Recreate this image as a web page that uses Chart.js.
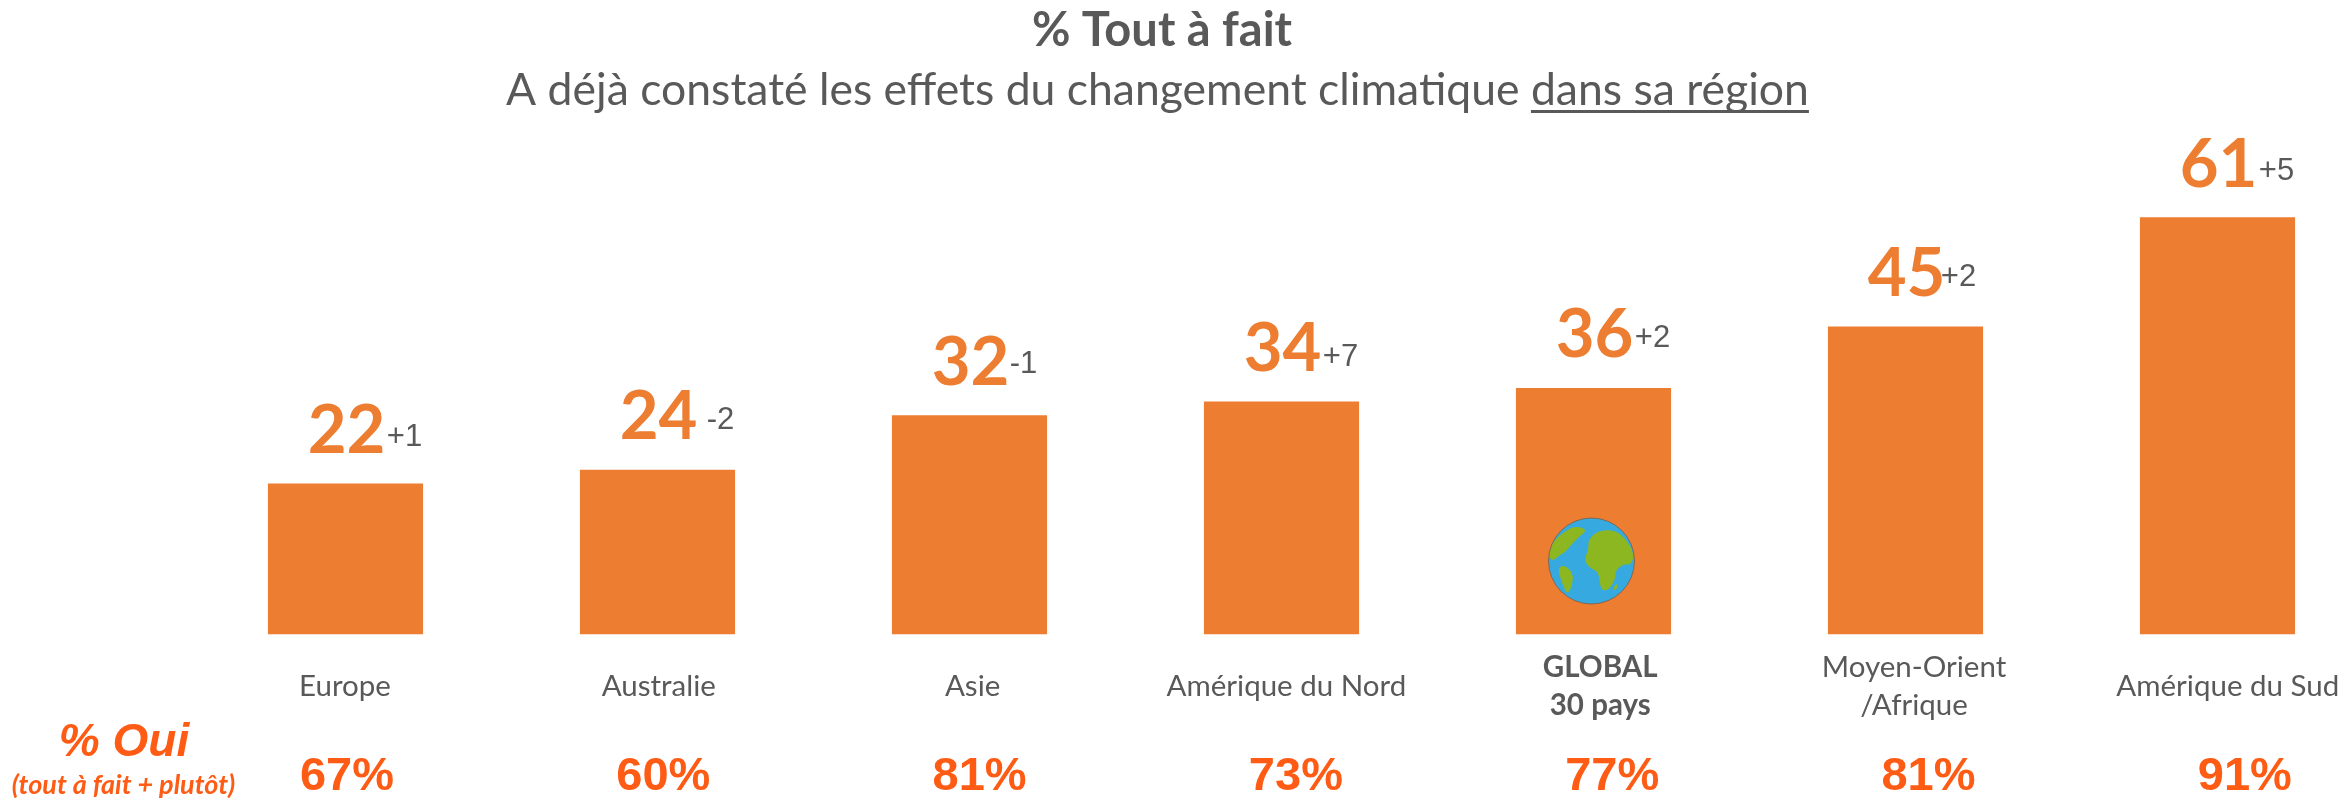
<!DOCTYPE html>
<html><head><meta charset="utf-8">
<style>html,body{margin:0;padding:0;background:#fff;overflow:hidden}canvas{display:block}</style>
<script src="https://cdn.jsdelivr.net/npm/chart.js@4"></script></head>
<body><canvas id="c" width="2346" height="798"></canvas>
<script>
const categories = ['Europe','Australie','Asie','Amérique du Nord',['GLOBAL','30 pays'],['Moyen-Orient','/Afrique'],'Amérique du Sud'];
const toutAFait = [22,24,32,34,36,45,61];
const deltas = ['+1','-2','-1','+7','+2','+2','+5'];
const pctOui = ['67%','60%','81%','73%','77%','81%','91%'];
const titleLine = '% Tout à fait';
const subtitleMain = 'A déjà constaté les effets du changement climatique ';
const subtitleUnderlined = 'dans sa région';
const ouiLabel = '% Oui';
const ouiNote = '(tout à fait + plutôt)';
const globalIndex = 4;

const ORANGE='#ED7D31', RED='#FE5B14', GREY='#595959';
const deltaDX=[59,63,54,59,59,53,59], deltaDY=[-46,-50,-51,-44,-50,-49,-46];

const continents=[
 [[415,205],[400,240],[420,265],[445,275],[450,330],[475,330],[495,295],[495,270],[520,250],[540,255],[552,225],[530,180],[495,150],[450,150],[425,165],[412,185]],
 [[298,200],[320,170],[370,135],[412,148],[385,170],[360,195],[345,215],[325,225],[312,240],[295,235]],
 [[320,260],[345,255],[372,285],[355,345],[338,320]],
 [[488,322],[500,308],[502,322],[492,332]]
];
function drawGlobe(ctx,cx,cy,r){
  ctx.save();
  ctx.beginPath();ctx.arc(cx,cy,r,0,Math.PI*2);ctx.fillStyle='#36A9E0';ctx.fill();
  ctx.clip();
  ctx.fillStyle='#8DB720';
  const k=r/129;
  for(const p of continents){
    ctx.beginPath();
    const P=p.map(a=>[cx+(a[0]-423)*k,cy+(a[1]-242)*k]);
    const n=P.length;
    ctx.moveTo((P[n-1][0]+P[0][0])/2,(P[n-1][1]+P[0][1])/2);
    for(let i=0;i<n;i++){const q=P[(i+1)%n];ctx.quadraticCurveTo(P[i][0],P[i][1],(P[i][0]+q[0])/2,(P[i][1]+q[1])/2);}
    ctx.closePath();ctx.fill();
  }
  ctx.restore();
  ctx.beginPath();ctx.arc(cx,cy,r,0,Math.PI*2);ctx.strokeStyle='rgba(120,95,70,.8)';ctx.lineWidth=1;ctx.stroke();
}
const annotate={id:'annotate',afterDatasetsDraw(chart){
  const ctx=chart.ctx,x=chart.scales.x,y=chart.scales.y;
  ctx.save();
  ctx.textBaseline='alphabetic';
  ctx.textAlign='center';ctx.fillStyle=GREY;
  ctx.font='bold 47px Lato';ctx.fillText(titleLine,1162,46);
  ctx.font='44.5px Lato';
  ctx.textAlign='left';
  const mainW=ctx.measureText(subtitleMain).width, undW=ctx.measureText(subtitleUnderlined).width;
  const sx=1157.5-(mainW+undW)/2;
  ctx.fillText(subtitleMain,sx,105);
  ctx.fillText(subtitleUnderlined,sx+mainW,105);
  ctx.fillRect(sx+mainW,110,undW,3);
  toutAFait.forEach((v,i)=>{
    const px=x.getPixelForValue(i),top=y.getPixelForValue(v);
    ctx.textAlign='center';
    ctx.fillStyle=ORANGE;ctx.font='bold 67px Lato';
    ctx.fillText(String(v),px+1,top-31);
    ctx.fillStyle=GREY;ctx.font='31px "Liberation Sans"';
    ctx.textBaseline='middle';
    ctx.fillText(deltas[i],px+deltaDX[i],top+deltaDY[i]);
    ctx.textBaseline='alphabetic';
    ctx.fillStyle=RED;ctx.font='bold 47px "Liberation Sans"';
    ctx.fillText(pctOui[i],px+1.5+4.3*i,790);
  });
  ctx.fillStyle=RED;
  ctx.font='italic bold 46px "Liberation Sans"';ctx.fillText(ouiLabel,124,756);
  ctx.font='italic bold 27px Lato';ctx.fillText(ouiNote,123.5,794);
  ctx.restore();
  drawGlobe(ctx,x.getPixelForValue(globalIndex)-2,561,43);
}};
new Chart(document.getElementById('c'),{
  type:'bar',
  data:{labels:categories,datasets:[{data:toutAFait,backgroundColor:ORANGE,borderWidth:0,barThickness:154.5,clip:false}]},
  options:{
    responsive:false,animation:false,
    layout:{padding:{top:88,left:345.5,right:128.5,bottom:0}},
    plugins:{legend:{display:false},tooltip:{enabled:false},title:{display:false}},
    scales:{
      x:{type:'category',offset:false,
        grid:{display:false,drawTicks:false},border:{display:false},
        ticks:{autoSkip:false,maxRotation:0,minRotation:0,padding:33,crossAlign:'center',color:GREY,
          font:c=>({family:'Lato',size:29.5,lineHeight:1.32,weight:c.index===globalIndex?'bold':'normal'})},
        afterFit(s){s.height=164;s.paddingLeft=0;s.paddingRight=0;},
        afterBuildTicks(s){
          if(s._drifted)return; s._drifted=true;
          const base=s.getPixelForTick;
          s.getPixelForTick=function(i){const p=base.call(this,i);return p===null?p:p-0.5+1.8*i;};
        }},
      y:{display:false,min:0,max:80}
    }
  },
  plugins:[annotate]
});
</script></body></html>
